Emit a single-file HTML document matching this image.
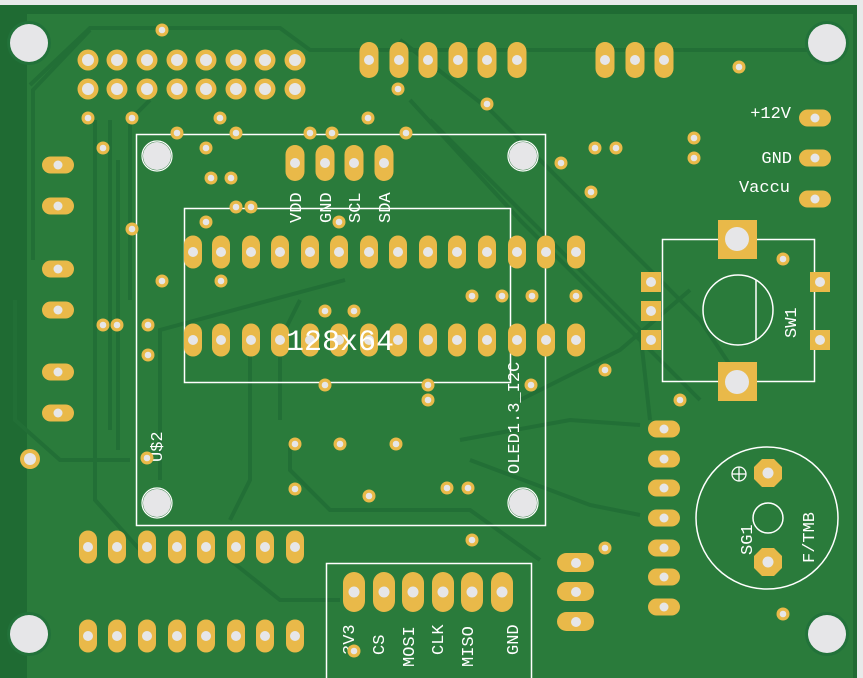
<!DOCTYPE html>
<html><head><meta charset="utf-8"><style>
html,body{margin:0;padding:0;background:#e8eaea;width:863px;height:678px;overflow:hidden}
svg{display:block}
text{font-family:"Liberation Mono","Liberation Sans",monospace;fill:#fff}
</style></head><body>
<svg width="863" height="678" viewBox="0 0 863 678" xmlns="http://www.w3.org/2000/svg">
<defs>
<g id="v"><rect x="-9.5" y="-18" width="19" height="36" rx="9.5" fill="#e9b949"/><circle r="5" fill="#e6e6e8"/></g>
<g id="vs"><rect x="-9" y="-16.5" width="18" height="33" rx="9" fill="#e9b949"/><circle r="5" fill="#e6e6e8"/></g>
<g id="h"><rect x="-16" y="-8.5" width="32" height="17" rx="8.5" fill="#e9b949"/><circle r="4.5" fill="#e6e6e8"/></g>
<g id="r"><circle r="10.5" fill="#e9b949"/><circle r="6" fill="#e6e6e8"/></g>
<g id="o"><circle r="6.5" fill="#e9b949"/><circle r="3.3" fill="#e6e6e8"/></g>
<g id="sq"><rect x="-10" y="-10" width="20" height="20" fill="#e9b949"/><circle r="5" fill="#e6e6e8"/></g>
<g id="mh"><circle r="22" fill="#22723a"/><circle r="19" fill="#e6e6e8"/></g>
<g id="oh"><circle r="14" fill="#e6e6e8"/><circle r="15" fill="none" stroke="#fff" stroke-width="1.2"/></g>
</defs>
<rect x="0" y="5" width="857" height="673" fill="#1f6b33"/>
<rect x="27" y="14" width="826" height="664" fill="#2a7b3b"/>
<g fill="none" stroke="#226f36" stroke-width="4">
<path d="M30 85 L90 28 L280 28 L310 50 L840 50"/>
<path d="M33 260 L33 90 L90 30"/>
<path d="M95 120 L95 500 L140 550"/>
<path d="M110 120 L110 430"/>
<path d="M118 160 L118 450"/>
<path d="M150 100 L130 120 L130 300"/>
<path d="M400 40 L490 110 L620 240 L700 320 L740 380"/>
<path d="M410 100 L520 220 L700 400"/>
<path d="M430 120 L560 250 L640 330 L650 420"/>
<path d="M345 280 L160 330 L160 480"/>
<path d="M230 560 L280 600 L340 600"/>
<path d="M290 440 L290 470 L330 510 L470 510 L540 560"/>
<path d="M460 440 L570 420 L640 425"/>
<path d="M470 460 L590 505 L640 515"/>
<path d="M250 350 L250 480 L230 520"/>
<path d="M15 300 L15 420 L60 460 L130 460"/>
<path d="M300 300 L280 340 L280 420"/>
<path d="M520 400 L620 350 L690 290"/>
</g>
<use href="#mh" x="29" y="43"/><use href="#mh" x="827" y="43"/>
<use href="#mh" x="29" y="634"/><use href="#mh" x="827" y="634"/>
<g><circle cx="30" cy="459" r="10" fill="#e9b949"/><circle cx="30" cy="459" r="6" fill="#e6e6e8"/></g>
<g>
<use href="#r" x="88" y="60"/><use href="#r" x="117" y="60"/><use href="#r" x="147" y="60"/><use href="#r" x="177" y="60"/><use href="#r" x="206" y="60"/><use href="#r" x="236" y="60"/><use href="#r" x="265" y="60"/><use href="#r" x="295" y="60"/>
<use href="#r" x="88" y="89"/><use href="#r" x="117" y="89"/><use href="#r" x="147" y="89"/><use href="#r" x="177" y="89"/><use href="#r" x="206" y="89"/><use href="#r" x="236" y="89"/><use href="#r" x="265" y="89"/><use href="#r" x="295" y="89"/>
</g>
<use href="#v" x="369" y="60"/><use href="#v" x="399" y="60"/><use href="#v" x="428" y="60"/><use href="#v" x="458" y="60"/><use href="#v" x="487" y="60"/><use href="#v" x="517" y="60"/>
<use href="#v" x="605" y="60"/><use href="#v" x="635" y="60"/><use href="#v" x="664" y="60"/>
<use href="#h" x="58" y="165"/><use href="#h" x="58" y="206"/><use href="#h" x="58" y="269"/><use href="#h" x="58" y="310"/><use href="#h" x="58" y="372"/><use href="#h" x="58" y="413"/>
<rect x="136.5" y="134.5" width="409" height="391" fill="none" stroke="#fff" stroke-width="1.5"/>
<rect x="184.5" y="208.5" width="326" height="174" fill="none" stroke="#fff" stroke-width="1.5"/>
<use href="#oh" x="157" y="156"/><use href="#oh" x="523" y="156"/><use href="#oh" x="157" y="503"/><use href="#oh" x="523" y="503"/>
<use href="#v" x="295" y="163"/><use href="#v" x="325" y="163"/><use href="#v" x="354" y="163"/><use href="#v" x="384" y="163"/>
<g font-size="17">
<text transform="translate(301,223) rotate(-90)">VDD</text>
<text transform="translate(331,223) rotate(-90)">GND</text>
<text transform="translate(360,223) rotate(-90)">SCL</text>
<text transform="translate(390,223) rotate(-90)">SDA</text>
</g>
<g>
<use href="#vs" x="193" y="252"/><use href="#vs" x="221" y="252"/><use href="#vs" x="251" y="252"/><use href="#vs" x="280" y="252"/><use href="#vs" x="310" y="252"/><use href="#vs" x="339" y="252"/><use href="#vs" x="369" y="252"/><use href="#vs" x="398" y="252"/><use href="#vs" x="428" y="252"/><use href="#vs" x="457" y="252"/><use href="#vs" x="487" y="252"/><use href="#vs" x="517" y="252"/><use href="#vs" x="546" y="252"/><use href="#vs" x="576" y="252"/>
<use href="#vs" x="193" y="340"/><use href="#vs" x="221" y="340"/><use href="#vs" x="251" y="340"/><use href="#vs" x="280" y="340"/><use href="#vs" x="310" y="340"/><use href="#vs" x="339" y="340"/><use href="#vs" x="369" y="340"/><use href="#vs" x="398" y="340"/><use href="#vs" x="428" y="340"/><use href="#vs" x="457" y="340"/><use href="#vs" x="487" y="340"/><use href="#vs" x="517" y="340"/><use href="#vs" x="546" y="340"/><use href="#vs" x="576" y="340"/>
</g>
<text x="340" y="350" font-size="30" text-anchor="middle">128x64</text>
<text transform="translate(519,474) rotate(-90)" font-size="17">OLED1.3_I2C</text>
<text transform="translate(162,462) rotate(-90)" font-size="17">U$2</text>
<use href="#vs" x="88" y="547"/><use href="#vs" x="117" y="547"/><use href="#vs" x="147" y="547"/><use href="#vs" x="177" y="547"/><use href="#vs" x="206" y="547"/><use href="#vs" x="236" y="547"/><use href="#vs" x="265" y="547"/><use href="#vs" x="295" y="547"/>
<use href="#vs" x="88" y="636"/><use href="#vs" x="117" y="636"/><use href="#vs" x="147" y="636"/><use href="#vs" x="177" y="636"/><use href="#vs" x="206" y="636"/><use href="#vs" x="236" y="636"/><use href="#vs" x="265" y="636"/><use href="#vs" x="295" y="636"/>
<rect x="326.5" y="563.5" width="205" height="120" fill="none" stroke="#fff" stroke-width="1.5"/>
<g>
<rect x="343" y="572" width="22" height="40" rx="11" fill="#e9b949"/><circle cx="354" cy="592" r="5.5" fill="#e6e6e8"/>
<rect x="373" y="572" width="22" height="40" rx="11" fill="#e9b949"/><circle cx="384" cy="592" r="5.5" fill="#e6e6e8"/>
<rect x="402" y="572" width="22" height="40" rx="11" fill="#e9b949"/><circle cx="413" cy="592" r="5.5" fill="#e6e6e8"/>
<rect x="432" y="572" width="22" height="40" rx="11" fill="#e9b949"/><circle cx="443" cy="592" r="5.5" fill="#e6e6e8"/>
<rect x="461" y="572" width="22" height="40" rx="11" fill="#e9b949"/><circle cx="472" cy="592" r="5.5" fill="#e6e6e8"/>
<rect x="491" y="572" width="22" height="40" rx="11" fill="#e9b949"/><circle cx="502" cy="592" r="5.5" fill="#e6e6e8"/>
</g>
<g font-size="17">
<text transform="translate(354,655) rotate(-90)">3V3</text>
<text transform="translate(384,655) rotate(-90)">CS</text>
<text transform="translate(414,667) rotate(-90)">MOSI</text>
<text transform="translate(443,655) rotate(-90)">CLK</text>
<text transform="translate(473,667) rotate(-90)">MISO</text>
<text transform="translate(518,655) rotate(-90)">GND</text>
</g>
<use href="#h" x="815" y="118"/><use href="#h" x="815" y="158"/><use href="#h" x="815" y="199"/>
<g font-size="17" text-anchor="end">
<text x="791" y="118">+12V</text>
<text x="792" y="163">GND</text>
<text x="790" y="192">Vaccu</text>
</g>
<rect x="662.5" y="239.5" width="152" height="142" fill="none" stroke="#fff" stroke-width="1.5"/>
<g><rect x="718" y="220" width="39" height="39" fill="#e9b949"/><circle cx="737" cy="239" r="12" fill="#e6e6e8"/></g>
<g><rect x="718" y="362" width="39" height="39" fill="#e9b949"/><circle cx="737" cy="382" r="12" fill="#e6e6e8"/></g>
<use href="#sq" x="651" y="282"/><use href="#sq" x="651" y="311"/><use href="#sq" x="651" y="340"/>
<use href="#sq" x="820" y="282"/><use href="#sq" x="820" y="340"/>
<circle cx="738" cy="310" r="35" fill="none" stroke="#fff" stroke-width="1.5"/>
<line x1="756" y1="280" x2="756" y2="340" stroke="#fff" stroke-width="1.5"/>
<text transform="translate(796,338) rotate(-90)" font-size="17">SW1</text>
<use href="#h" x="664" y="429"/><use href="#h" x="664" y="459"/><use href="#h" x="664" y="488"/><use href="#h" x="664" y="518"/><use href="#h" x="664" y="548"/><use href="#h" x="664" y="577"/><use href="#h" x="664" y="607"/>
<g><rect x="557" y="553" width="37" height="19" rx="9.5" fill="#e9b949"/><circle cx="576" cy="563" r="5" fill="#e6e6e8"/>
<rect x="557" y="582" width="37" height="19" rx="9.5" fill="#e9b949"/><circle cx="576" cy="592" r="5" fill="#e6e6e8"/>
<rect x="557" y="612" width="37" height="19" rx="9.5" fill="#e9b949"/><circle cx="576" cy="622" r="5" fill="#e6e6e8"/></g>
<circle cx="767" cy="518" r="71" fill="none" stroke="#fff" stroke-width="1.5"/>
<polygon points="762,459 774,459 782,467 782,479 774,487 762,487 754,479 754,467" fill="#e9b949"/><circle cx="768" cy="473" r="5.5" fill="#e6e6e8"/>
<polygon points="762,548 774,548 782,556 782,568 774,576 762,576 754,568 754,556" fill="#e9b949"/><circle cx="768" cy="562" r="5.5" fill="#e6e6e8"/>
<circle cx="768" cy="518" r="15" fill="none" stroke="#fff" stroke-width="1.5"/>
<circle cx="739" cy="474" r="7" fill="none" stroke="#fff" stroke-width="1.3"/>
<line x1="732" y1="474" x2="746" y2="474" stroke="#fff" stroke-width="1.3"/><line x1="739" y1="467" x2="739" y2="481" stroke="#fff" stroke-width="1.3"/>
<text transform="translate(752,555) rotate(-90)" font-size="17">SG1</text>
<text transform="translate(814,563) rotate(-90)" font-size="17">F/TMB</text>
<g>
<use href="#o" x="162" y="30"/><use href="#o" x="88" y="118"/><use href="#o" x="132" y="118"/><use href="#o" x="220" y="118"/><use href="#o" x="368" y="118"/><use href="#o" x="398" y="89"/><use href="#o" x="487" y="104"/>
<use href="#o" x="103" y="148"/><use href="#o" x="177" y="133"/><use href="#o" x="236" y="133"/><use href="#o" x="310" y="133"/><use href="#o" x="332" y="133"/><use href="#o" x="406" y="133"/>
<use href="#o" x="206" y="148"/><use href="#o" x="211" y="178"/><use href="#o" x="231" y="178"/><use href="#o" x="236" y="207"/><use href="#o" x="251" y="207"/><use href="#o" x="206" y="222"/><use href="#o" x="132" y="229"/><use href="#o" x="339" y="222"/>
<use href="#o" x="162" y="281"/><use href="#o" x="148" y="325"/><use href="#o" x="103" y="325"/><use href="#o" x="117" y="325"/><use href="#o" x="148" y="355"/>
<use href="#o" x="221" y="281"/><use href="#o" x="325" y="311"/><use href="#o" x="354" y="311"/><use href="#o" x="472" y="296"/><use href="#o" x="502" y="296"/><use href="#o" x="532" y="296"/><use href="#o" x="576" y="296"/>
<use href="#o" x="739" y="67"/><use href="#o" x="694" y="138"/><use href="#o" x="694" y="158"/><use href="#o" x="595" y="148"/><use href="#o" x="616" y="148"/><use href="#o" x="561" y="163"/><use href="#o" x="591" y="192"/><use href="#o" x="783" y="259"/>
<use href="#o" x="605" y="370"/><use href="#o" x="680" y="400"/><use href="#o" x="428" y="385"/><use href="#o" x="428" y="400"/><use href="#o" x="325" y="385"/><use href="#o" x="531" y="385"/>
<use href="#o" x="295" y="444"/><use href="#o" x="340" y="444"/><use href="#o" x="396" y="444"/><use href="#o" x="295" y="489"/><use href="#o" x="369" y="496"/><use href="#o" x="447" y="488"/><use href="#o" x="468" y="488"/>
<use href="#o" x="472" y="540"/><use href="#o" x="605" y="548"/><use href="#o" x="783" y="614"/><use href="#o" x="147" y="458"/><use href="#o" x="354" y="651"/>
</g>
<rect x="857" y="0" width="6" height="678" fill="#e8eaea"/>
<rect x="0" y="0" width="863" height="5" fill="#e8eaea"/>
</svg>
</body></html>
